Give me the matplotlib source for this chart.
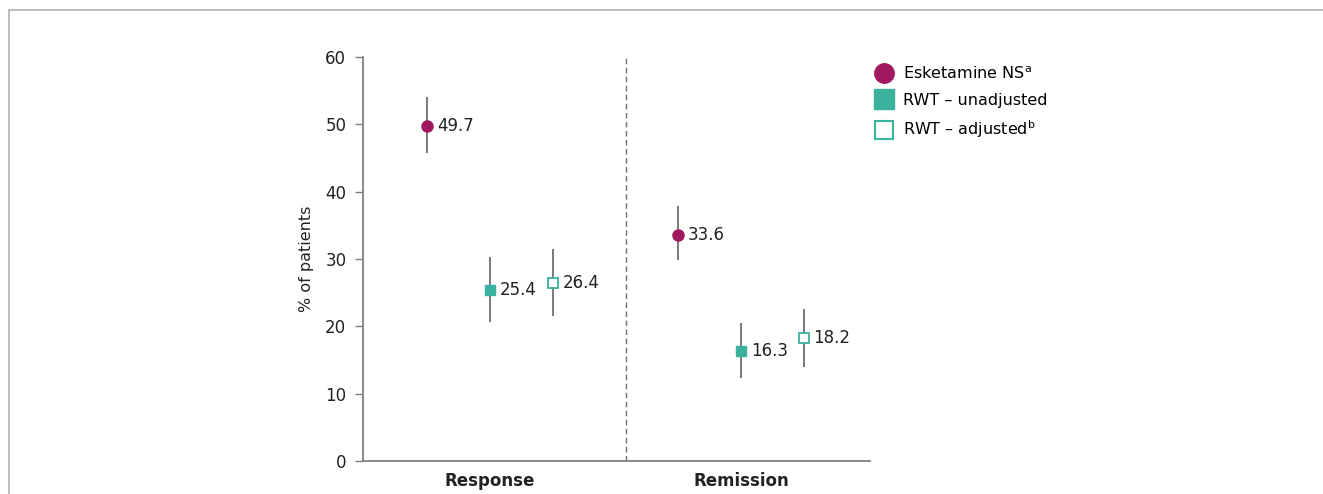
import numpy as np
import matplotlib
matplotlib.use("Agg")
import matplotlib.pyplot as plt
from matplotlib.lines import Line2D

plt.rcParams['font.family'] = ['DejaVu Sans']

# response / remission rates with 95% CI
categories = ['Response', 'Remission']
series_names = ['Esketamine NS$^{\\mathrm{a}}$', 'RWT – unadjusted', 'RWT – adjusted$^{\\mathrm{b}}$']
esk = [49.7, 33.6]
esk_lo = [45.7, 29.9]
esk_hi = [54.0, 37.8]
unadj = [25.4, 16.3]
unadj_lo = [20.6, 12.3]
unadj_hi = [30.3, 20.5]
adj = [26.4, 18.2]
adj_lo = [21.6, 14.0]
adj_hi = [31.5, 22.6]

magenta = '#A0195F'
teal = '#3BB19D'
grey = '#808080'

fig = plt.figure(figsize=(13.23, 4.94), dpi=100)
ax = fig.add_axes([0.2744, 0.0668, 0.3832, 0.8178])

x = np.arange(len(categories))
offsets = [-0.25, 0.0, 0.25]
series = [
    (esk, esk_lo, esk_hi, dict(marker='o', ms=8, mfc=magenta, mec=magenta)),
    (unadj, unadj_lo, unadj_hi, dict(marker='s', ms=7.5, mfc=teal, mec=teal)),
    (adj, adj_lo, adj_hi, dict(marker='s', ms=7.5, mfc='white', mec=teal, mew=1.3)),
]
for off, (vals, lo, hi, style) in zip(offsets, series):
    vals, lo, hi = np.array(vals), np.array(lo), np.array(hi)
    xs = x + off
    ax.vlines(xs, lo, hi, color='#555555', lw=1.1, zorder=2)
    ax.plot(xs, vals, ls='none', zorder=3, **style)
    for xi, v in zip(xs, vals):
        ax.annotate(f'{v:.1f}', (xi, v), xytext=(7, 0), textcoords='offset points',
                    va='center', ha='left', fontsize=12, color='#222222')

ax.axvline(0.54, color='#707070', ls=(0, (4, 2.5)), lw=1.0)

ax.set_xlim(-0.506, 1.514)
ax.set_ylim(0, 60)
ax.set_yticks(range(0, 61, 10))
ax.set_xticks(x)
ax.set_xticklabels(categories, fontsize=12, fontweight='bold', color='#222222')
ax.tick_params(axis='x', length=0, pad=8)
ax.tick_params(axis='y', length=6, width=1, color=grey, labelsize=12, labelcolor='#222222', pad=6)
ax.set_ylabel('% of patients', fontsize=11.5, color='#222222', labelpad=8)
for s in ['top', 'right']:
    ax.spines[s].set_visible(False)
for s in ['left', 'bottom']:
    ax.spines[s].set_color(grey)
    ax.spines[s].set_linewidth(1.3)

handles = [
    Line2D([], [], ls='none', marker='o', ms=14, mfc=magenta, mec=magenta),
    Line2D([], [], ls='none', marker='s', ms=14, mfc=teal, mec=teal),
    Line2D([], [], ls='none', marker='s', ms=13, mfc='white', mec=teal, mew=1.5),
]
fig.legend(handles, series_names, loc='upper left', bbox_to_anchor=(866 / 1323, 1 - 59 / 494),
           frameon=False, fontsize=11.5, handletextpad=0.4, labelspacing=0.68,
           handlelength=1.5, borderaxespad=0)

# outer frame (top and left edges)
fig.add_artist(Line2D([9 / 1323, 9 / 1323, 1], [0, 1 - 10 / 494, 1 - 10 / 494],
                      transform=fig.transFigure, color='#b0b0b0', lw=1.2))

fig.savefig('out.png', dpi=100)
